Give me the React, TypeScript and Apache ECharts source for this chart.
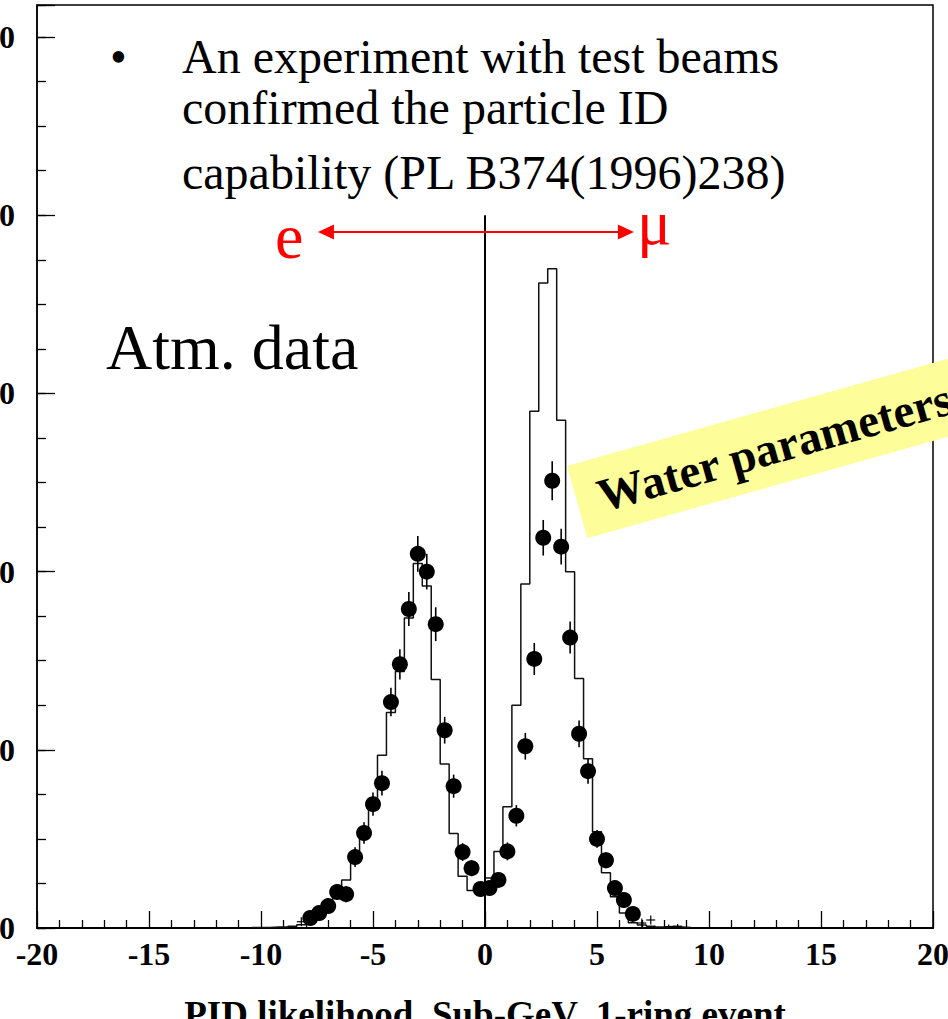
import React, { useEffect, useRef } from 'react';
import * as echarts from 'echarts';

const FONT = "'Liberation Serif', 'Times New Roman', Times, serif";

// Monte Carlo histogram: left bin edges (bin width 0.4) and contents
const mcBinEdges = [
  -10.4, -10.0, -9.6, -9.2, -8.8, -8.4, -8.0, -7.6, -7.2, -6.8, -6.4, -6.0, -5.6, -5.2,
  -4.8, -4.4, -4.0, -3.6, -3.2, -2.8, -2.4, -2.0, -1.6, -1.2, -0.8, -0.4, 0.0, 0.4, 0.8,
  1.2, 1.6, 2.0, 2.4, 2.8, 3.2, 3.6, 4.0, 4.4, 4.8, 5.2, 5.6, 6.0, 6.4, 6.8, 7.2, 7.6,
  8.0, 8.4, 8.8, 9.2,
];
const mcCounts = [
  0.3, 0.3, 0.5, 0.6, 1.0, 1.8, 4, 7.5, 13, 22, 27, 40, 55, 68,
  97, 121, 144, 174, 204.5, 192, 139.5, 92, 53, 29, 21, 21, 28, 43, 68,
  125, 193, 290, 362, 370, 285, 200, 140, 95, 54, 31, 17.6, 8.4, 3, 1.7, 1.0, 0.6,
  0.8, 0.6, 0.3,
];

// Atmospheric data points (bin centres), values and errors
const dotX = [
  -7.8, -7.4, -7.0, -6.6, -6.2, -5.8, -5.4, -5.0, -4.6, -4.2, -3.8, -3.4, -3.0, -2.6, -2.2,
  -1.8, -1.4, -1.0, -0.6, -0.2, 0.2, 0.6, 1.0, 1.4, 1.8, 2.2, 2.6, 3.0, 3.4, 3.8, 4.2, 4.6,
  5.0, 5.4, 5.8, 6.2, 6.6,
];
const dotY = [
  5.6, 8.4, 12.3, 20.2, 19, 39.8, 53.3, 69.5, 81.3, 126.8, 148, 179, 210, 200, 170.5,
  111, 79.6, 42.6, 33.6, 21.9, 22.4, 27, 43, 63, 102, 151, 219, 251, 214, 163, 109, 88,
  50, 38, 22.4, 15.7, 7.9,
];
const dotErr = [
  2.5, 3, 3.5, 4.5, 4.5, 5.5, 6, 6.5, 7, 8, 8.5, 9.5, 10, 10, 9.5,
  7.5, 6.5, 5, 4.5, 3.5, 3.5, 4, 5, 6, 7.5, 9, 10, 11, 10, 9, 7.5, 7,
  5, 4.5, 3.5, 3, 2.5,
];

// small-count points drawn as crosses
const crossX = [-8.2, 7.0, 7.4, 8.2, 8.6];
const crossY = [3.5, 2.8, 4.5, 0.8, 1.0];
const crossErr = [2.5, 2.5, 2.5, 1.2, 1.2];
const binHalfWidth = 0.2;

// annotations in data coordinates
const zeroLineTop = 400;
const arrowY = 390.6;
const arrowFromX = -7.1;
const arrowToX = 6.29;

const yMax = 518;

export default function App() {
  const ref = useRef<HTMLDivElement>(null);

  useEffect(() => {
    if (!ref.current) return;
    const chart = echarts.init(ref.current, null, { renderer: 'svg' });

    const mcData = mcBinEdges.map((e, i) => [e, i < mcCounts.length ? mcCounts[i] : 0]);
    const dotData = dotX.map((x, i) => [x, dotY[i], dotErr[i]]);
    const crossData = crossX.map((x, i) => [x, crossY[i], crossErr[i]]);

    const option: any = {
      animation: false,
      backgroundColor: '#fff',
      grid: {
        left: 37, right: 15, top: 5, bottom: 91,
        show: true, borderColor: '#000', borderWidth: 1.5,
        containLabel: false, outerBoundsMode: 'none',
      },
      xAxis: {
        type: 'value', min: -20, max: 20, interval: 5,
        axisLine: { show: true, onZero: false, lineStyle: { color: '#000', width: 2 } },
        axisTick: { show: true, inside: true, length: 17, lineStyle: { color: '#000', width: 1.3 } },
        minorTick: { show: true, splitNumber: 5, length: 8, lineStyle: { color: '#000', width: 1.3 } },
        axisLabel: { color: '#000', fontFamily: FONT, fontWeight: 'bold', fontSize: 32, margin: 10 },
        splitLine: { show: false },
        minorSplitLine: { show: false },
        name: 'PID likelihood  Sub-GeV  1-ring event',
        nameLocation: 'middle', nameGap: 68,
        nameTextStyle: { color: '#000', fontFamily: FONT, fontWeight: 'bold', fontSize: 37 },
      },
      yAxis: [
        {
          type: 'value', position: 'left', min: 0, max: yMax, interval: 100,
          axisLine: { show: true, onZero: false, lineStyle: { color: '#000', width: 1.5 } },
          axisTick: { show: true, inside: true, length: 18, lineStyle: { color: '#000', width: 1.3 } },
          axisLabel: {
            color: '#000', fontFamily: FONT, fontWeight: 'bold', fontSize: 32, margin: 22,
            formatter: (v: number) => (v % 100 === 0 ? String(v) : ''),
          },
          splitLine: { show: false },
        },
        {
          type: 'value', position: 'left', min: 0, max: yMax, interval: 25,
          axisLine: { show: false, onZero: false },
          axisTick: { show: true, inside: true, length: 9, lineStyle: { color: '#000', width: 1.3 } },
          axisLabel: { show: false },
          splitLine: { show: false },
        },
      ],
      series: [
        {
          name: 'MC', type: 'line', step: 'end', data: mcData, symbol: 'none',
          lineStyle: { color: '#111', width: 1.5 }, z: 2, silent: true,
        },
        {
          name: 'zero', type: 'line', data: [[0, 0], [0, zeroLineTop]], symbol: 'none',
          lineStyle: { color: '#000', width: 2 }, z: 3, silent: true,
          markLine: {
            silent: true, animation: false,
            symbol: ['triangle', 'triangle'], symbolSize: [15, 16],
            label: { show: false },
            lineStyle: { color: '#ff0000', width: 2, type: 'solid' },
            itemStyle: { color: '#ff0000' },
            data: [[{ coord: [arrowFromX, arrowY] }, { coord: [arrowToX, arrowY] }]],
          },
        },
        {
          name: 'errors', type: 'custom', data: dotData, z: 4, silent: true,
          encode: { x: 0, y: 1 },
          renderItem: (params: any, api: any) => {
            const x = api.value(0), y = api.value(1), e = api.value(2);
            const p1 = api.coord([x, y - e]);
            const p2 = api.coord([x, y + e]);
            return {
              type: 'line',
              shape: { x1: p1[0], y1: p1[1], x2: p2[0], y2: p2[1] },
              style: { stroke: '#000', lineWidth: 1.6 },
            };
          },
        },
        {
          name: 'Atm. data', type: 'scatter', data: dotData.map((d) => [d[0], d[1]]),
          symbol: 'circle', symbolSize: 16, itemStyle: { color: '#000', opacity: 1 }, z: 5, silent: true,
        },
        {
          name: 'crosses', type: 'custom', data: crossData, z: 4, silent: true,
          encode: { x: 0, y: 1 },
          renderItem: (params: any, api: any) => {
            const x = api.value(0), y = api.value(1), e = api.value(2);
            const a = api.coord([x - binHalfWidth, y]);
            const b = api.coord([x + binHalfWidth, y]);
            const c = api.coord([x, y - e]);
            const d = api.coord([x, y + e]);
            return {
              type: 'group',
              children: [
                { type: 'line', shape: { x1: a[0], y1: a[1], x2: b[0], y2: b[1] }, style: { stroke: '#000', lineWidth: 1.2 } },
                { type: 'line', shape: { x1: c[0], y1: c[1], x2: d[0], y2: d[1] }, style: { stroke: '#000', lineWidth: 1.2 } },
              ],
            };
          },
        },
      ],
      graphic: [
        { type: 'text', x: 110, y: 56.8, z: 10, style: { text: '•', fontSize: 48, fontFamily: FONT, fill: '#000', align: 'left', verticalAlign: 'middle' } },
        { type: 'text', x: 182, y: 56.8, z: 10, style: { text: 'An experiment with test beams', fontSize: 48, fontFamily: FONT, fill: '#000', align: 'left', verticalAlign: 'middle' } },
        { type: 'text', x: 182, y: 107.8, z: 10, style: { text: 'confirmed the particle ID', fontSize: 48, fontFamily: FONT, fill: '#000', align: 'left', verticalAlign: 'middle' } },
        { type: 'text', x: 182, y: 172.8, z: 10, style: { text: 'capability (PL B374(1996)238)', fontSize: 48, fontFamily: FONT, fill: '#000', align: 'left', verticalAlign: 'middle' } },
        { type: 'text', x: 106, y: 347.4, z: 10, style: { text: 'Atm. data', fontSize: 64, fontFamily: FONT, fill: '#000', align: 'left', verticalAlign: 'middle' } },
        { type: 'text', x: 275, y: 236.4, z: 10, style: { text: 'e', fontSize: 64, fontFamily: FONT, fill: '#ff0000', align: 'left', verticalAlign: 'middle' } },
        { type: 'text', x: 637, y: 222.4, z: 10, style: { text: 'μ', fontSize: 64, fontFamily: "'Liberation Serif', 'DejaVu Serif', serif", fill: '#ff0000', align: 'left', verticalAlign: 'middle' } },
        {
          type: 'group', x: 567, y: 466, rotation: 0.274, z: 20,
          children: [
            { type: 'rect', shape: { x: 0, y: 0, width: 440, height: 75 }, style: { fill: '#fdfd99' } },
            { type: 'text', x: 22, y: 38, style: { text: 'Water parameters', fontSize: 47, fontWeight: 'bold', fontFamily: FONT, fill: '#000', align: 'left', verticalAlign: 'middle' } },
          ],
        },
      ],
    };

    chart.setOption(option);
    return () => chart.dispose();
  }, []);

  return (
    <div
      ref={ref}
      style={{ position: 'absolute', left: 0, top: 0, width: 948, height: 1019, background: '#fff' }}
    />
  );
}
